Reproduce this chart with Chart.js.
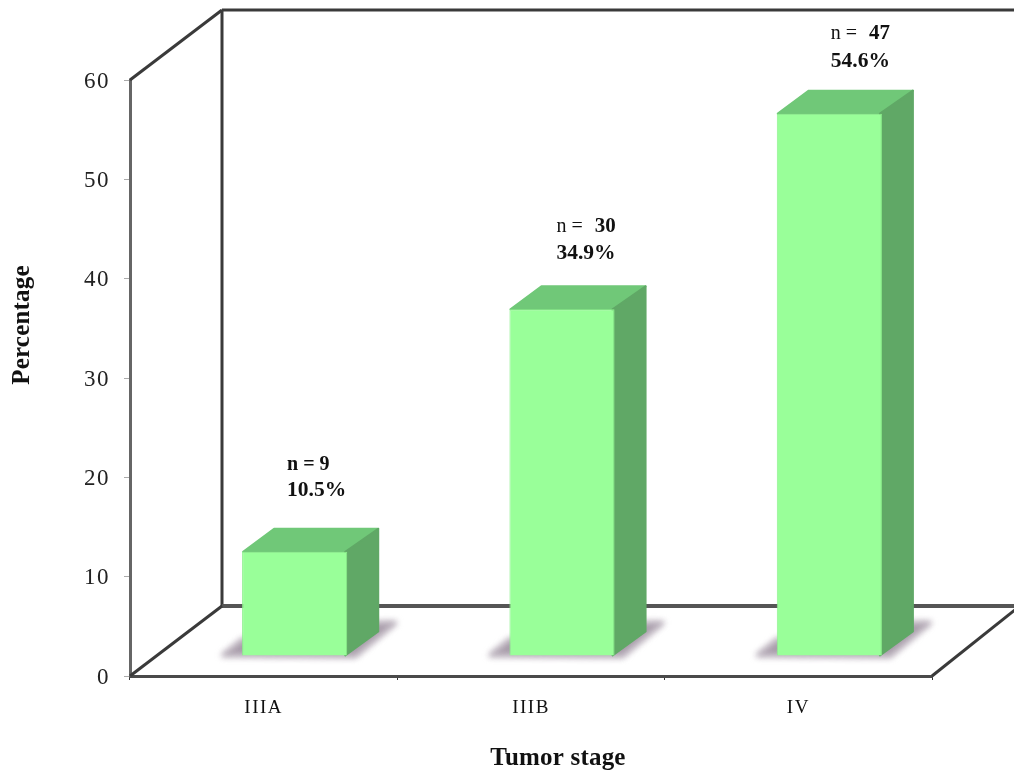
<!DOCTYPE html>
<html><head><meta charset="utf-8">
<style>html,body{margin:0;padding:0;background:#fff}#w{width:1014px;height:773px}canvas{filter:blur(.5px)}</style>
<script src="https://cdn.jsdelivr.net/npm/chart.js@4"></script></head>
<body><div id="w"><canvas id="c"></canvas></div>
<script>
const categories = ['IIIA','IIIB','IV'];
const percentages = [10.5,34.9,54.6];
const counts = [9,30,47];
const yTicks = [0,10,20,30,40,50,60];
const xTitle = 'Tumor stage';
const yTitle = 'Percentage';

const FONT = '"Liberation Serif", serif';
const DEPTH = {x:32,y:-24};
const WALL = {x:92,y:-70};
const SHIFT = {x:31,y:-20};
const NOTE = [{dx:45,dy:[-87,-61],nBold:true},{dx:47,dy:[-83,-56]},{dx:54,dy:[-80,-52]}];

function poly(ctx,pts,fill){ctx.beginPath();pts.forEach((p,i)=>i?ctx.lineTo(p[0],p[1]):ctx.moveTo(p[0],p[1]));ctx.closePath();ctx.fillStyle=fill;ctx.fill();ctx.strokeStyle=fill;ctx.lineWidth=2;ctx.lineJoin='round';ctx.stroke();}
function line(ctx,a,b,col,w){ctx.beginPath();ctx.moveTo(a[0],a[1]);ctx.lineTo(b[0],b[1]);ctx.strokeStyle=col;ctx.lineWidth=w;ctx.stroke();}

const threeD = {
  id:'threeD',
  beforeDraw(chart){ chart.ctx.letterSpacing='1.5px'; },
  beforeDatasetsDraw(chart){
    const {ctx,chartArea:a,width}=chart;
    ctx.save();
    const bx=a.left+WALL.x, by=a.bottom+WALL.y, ty=a.top+WALL.y;
    const col='#3a3a3a';
    line(ctx,[a.left,a.top],[bx,ty],col,3);
    line(ctx,[bx,ty],[bx,by],col,3);
    line(ctx,[bx,ty],[width,ty],col,3);
    line(ctx,[bx,by],[width,by],'#555',4);
    line(ctx,[a.left,a.bottom],[bx,by],col,3);
    line(ctx,[a.right,a.bottom],[width+2,a.bottom-67],col,3);
    const meta=chart.getDatasetMeta(0);
    meta.data.forEach(b=>{
      const l=b.x-b.width/2+SHIFT.x, r=b.x+b.width/2+SHIFT.x, t=b.y+SHIFT.y, base=b.base+SHIFT.y;
      ctx.save();ctx.filter='blur(3px)';
      poly(ctx,[[l-20,base],[l,base-16],[r+DEPTH.x,base-33],[r+49,base-33],[r+8,base+1]],'#a89caa');
      ctx.restore();
      poly(ctx,[[l+1,t],[l+DEPTH.x,t+DEPTH.y+1],[r+DEPTH.x-1,t+DEPTH.y+1],[r,t]],'#70c878');
      poly(ctx,[[r-2,t],[r+DEPTH.x-1,t+DEPTH.y+1],[r+DEPTH.x-1,base+DEPTH.y],[r-2,base]],'#60a866');
    });
    ctx.restore();
    ctx.save();ctx.translate(SHIFT.x,SHIFT.y);
  },
  afterDatasetsDraw(chart){
    const ctx=chart.ctx;
    ctx.restore();
    ctx.save();
    ctx.letterSpacing='0px';
    ctx.fillStyle='#111';ctx.textBaseline='middle';ctx.textAlign='left';
    chart.getDatasetMeta(0).data.forEach((b,i)=>{
      const x=b.x-b.width/2+SHIFT.x+NOTE[i].dx, t=b.y+SHIFT.y;
      let cx=x;
      if(NOTE[i].nBold){ctx.font='bold 20px '+FONT;ctx.fillText('n = '+counts[i],cx,t+NOTE[i].dy[0]);}
      else{
        ctx.font='20px '+FONT;ctx.fillText('n = ',cx,t+NOTE[i].dy[0]);
        cx+=ctx.measureText('n =  ').width+2;
        ctx.font='bold 21px '+FONT;ctx.fillText(String(counts[i]),cx,t+NOTE[i].dy[0]);
      }
      ctx.font='bold 21.5px '+FONT;
      ctx.fillText(percentages[i].toFixed(1)+'%',x,t+NOTE[i].dy[1]);
    });
    ctx.restore();
  },
  afterDraw(chart){
    const ctx=chart.ctx;
    ctx.save();
    ctx.letterSpacing='0.2px';
    ctx.fillStyle='#111';ctx.textAlign='center';ctx.textBaseline='middle';
    ctx.font='bold 25px '+FONT;
    ctx.fillText(xTitle,558,759);
    ctx.translate(23,325);ctx.rotate(-Math.PI/2);
    ctx.font='bold 25px '+FONT;
    ctx.fillText(yTitle,0,0);
    ctx.restore();
  }
};

new Chart(document.getElementById('c'),{
  type:'bar',
  data:{labels:categories,datasets:[{data:percentages,backgroundColor:'#99ff99',borderColor:'#8cf08c',borderWidth:1,barPercentage:105/267,categoryPercentage:1}]},
  plugins:[threeD],
  options:{
    responsive:true,maintainAspectRatio:false,animation:false,
    layout:{padding:{top:80,right:82,left:0,bottom:0}},
    plugins:{legend:{display:false},tooltip:{enabled:false},title:{display:false}},
    scales:{
      x:{
        afterFit(s){s.height=97;},
        grid:{drawOnChartArea:false,offset:true,tickLength:4,tickColor:'#333',lineWidth:1},
        border:{color:'#4a4a4a',width:3},
        ticks:{color:'#111',font:{family:FONT,size:19},padding:17,maxRotation:0},
        title:{display:false}
      },
      y:{
        min:0,max:60,
        afterFit(s){s.width=130;},
        afterBuildTicks(s){s.ticks=yTicks.map(v=>({value:v}));},
        grid:{drawOnChartArea:false,tickLength:6,tickColor:'#aaa',lineWidth:1},
        border:{color:'#666',width:3},
        ticks:{color:'#222',font:{family:FONT,size:23},padding:14,labelOffset:1.5},
        title:{display:false}
      }
    }
  }
});
</script></body></html>
